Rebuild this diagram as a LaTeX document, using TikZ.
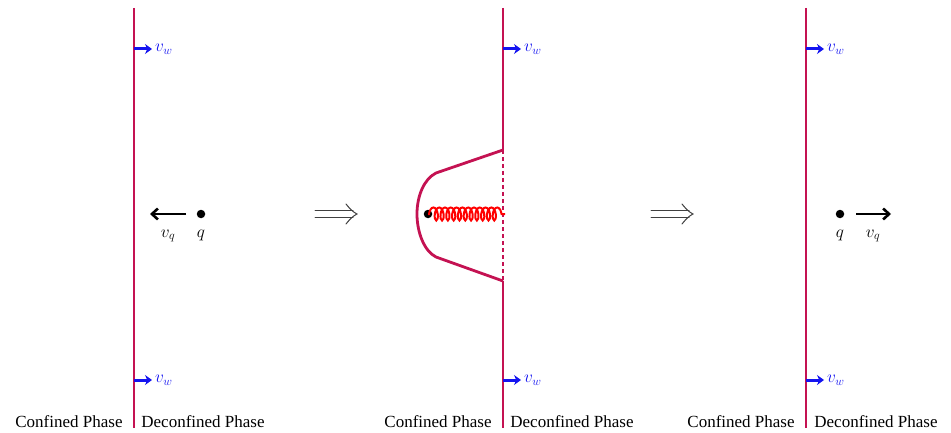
\documentclass[tikz,border=0pt]{standalone}
\usepackage{fontspec}
\setmainfont{Liberation Serif}
\usetikzlibrary{decorations.pathmorphing,arrows.meta}
\definecolor{wallc}{RGB}{196,18,82}
\definecolor{vwc}{RGB}{20,20,240}
\begin{document}
\begin{tikzpicture}[x=1pt,y=-1pt,
  wall/.style={draw=wallc,line width=2.8pt},
  vwarrow/.style={draw=vwc,line width=3pt,-{Stealth[length=7pt,width=10pt]}},
  vwlabel/.style={text=vwc,font=\fontsize{17}{17}\selectfont,anchor=west,inner sep=0pt},
  qarrow/.style={draw=black,line width=2.6pt,-{Straight Barb[length=6pt,width=11pt]}},
  mlabel/.style={font=\fontsize{17}{17}\selectfont,inner sep=0pt},
  phase/.style={font=\fontsize{17}{17}\selectfont,inner sep=0pt},
  dot/.style={circle,fill=black,inner sep=0pt,minimum size=8.5pt},
  impl/.style={draw=black!75,line width=1pt,line cap=round}
]
\useasboundingbox (0,0) rectangle (951,433);
% ---- Panel 1
\coordinate (w1t) at (134,8);
\coordinate (w1b) at (134,428);
\draw[wall] (w1t) -- (w1b);
\coordinate (a1s) at (134,49);
\coordinate (a1e) at (152,49);
\draw[vwarrow] (a1s) -- (a1e);
\node[vwlabel] (vw1) at (155,49) {$v_w$};
\coordinate (a2s) at (134,380);
\coordinate (a2e) at (152,380);
\draw[vwarrow] (a2s) -- (a2e);
\node[vwlabel] (vw2) at (155,380) {$v_w$};
\node[dot] (q1) at (201,214) {};
\coordinate (q1as) at (186,214);
\coordinate (q1ae) at (150,214);
\draw[qarrow] (q1as) -- (q1ae);
\node[mlabel] (vq1) at (168,236) {$v_q$};
\node[mlabel] (ql1) at (201,235) {$q$};
\node[phase] (cp1) at (69,422) {Confined Phase};
\node[phase] (dp1) at (203,422) {Deconfined Phase};
% ---- implies arrows (drawn)
\foreach \xs in {315,651} {
  \draw[impl] (\xs,210.5) -- (\xs+38,210.5);
  \draw[impl] (\xs,217.5) -- (\xs+38,217.5);
  \draw[impl] (\xs+31,204) .. controls (\xs+35,209) and (\xs+38,212) .. (\xs+42,214)
              .. controls (\xs+38,216) and (\xs+35,219) .. (\xs+31,224);
}
% ---- Panel 2
\coordinate (w2t) at (503,8);
\coordinate (w2m1) at (503,150);
\coordinate (w2m2) at (503,281);
\coordinate (w2b) at (503,428);
\draw[wall] (w2t) -- (w2m1);
\draw[wall] (w2m2) -- (w2b);
\draw[draw=wallc,line width=2.8pt,dash pattern=on 4pt off 3pt] (w2m1) -- (w2m2);
\draw[wall,line join=round] (w2m1) -- (436,173) .. controls (424,179) and (417,196) .. (417,214)
   .. controls (417,232) and (424,251) .. (436,257) -- (w2m2);
\coordinate (b1s) at (503,49);
\coordinate (b1e) at (521,49);
\draw[vwarrow] (b1s) -- (b1e);
\node[vwlabel] (vw3) at (524,49) {$v_w$};
\coordinate (b2s) at (503,380);
\coordinate (b2e) at (521,380);
\draw[vwarrow] (b2s) -- (b2e);
\node[vwlabel] (vw4) at (524,380) {$v_w$};
\node[dot] (q2) at (428,214) {};
\coordinate (sprE) at (505,214);
\draw[red,line width=2pt,decorate,decoration={coil,aspect=0.45,segment length=5.8pt,amplitude=6.5pt,pre length=1pt,post length=0pt}] (q2.center) -- (sprE);
\node[phase] (cp2) at (438,422) {Confined Phase};
\node[phase] (dp2) at (572,422) {Deconfined Phase};
% ---- Panel 3
\coordinate (w3t) at (806,8);
\coordinate (w3b) at (806,428);
\draw[wall] (w3t) -- (w3b);
\coordinate (c1s) at (806,49);
\coordinate (c1e) at (824,49);
\draw[vwarrow] (c1s) -- (c1e);
\node[vwlabel] (vw5) at (827,49) {$v_w$};
\coordinate (c2s) at (806,380);
\coordinate (c2e) at (824,380);
\draw[vwarrow] (c2s) -- (c2e);
\node[vwlabel] (vw6) at (827,380) {$v_w$};
\node[dot] (q3) at (840,214) {};
\coordinate (q3as) at (856,214);
\coordinate (q3ae) at (891,214);
\draw[qarrow] (q3as) -- (q3ae);
\node[mlabel] (ql3) at (840,235) {$q$};
\node[mlabel] (vq3) at (873,236) {$v_q$};
\node[phase] (cp3) at (741,422) {Confined Phase};
\node[phase] (dp3) at (876,422) {Deconfined Phase};
\end{tikzpicture}
\end{document}
